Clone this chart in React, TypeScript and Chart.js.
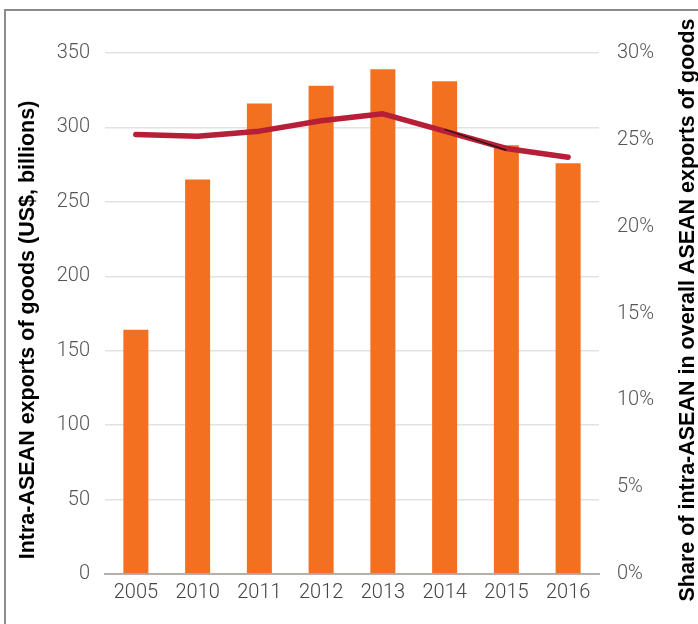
import React, { useEffect, useRef } from "react";
import { Chart, registerables } from "chart.js";

Chart.register(...registerables);

const categories = ["2005", "2010", "2011", "2012", "2013", "2014", "2015", "2016"];
const exportsBillions = [164, 265, 316, 328, 339, 331, 288, 276];
const sharePercent = [25.3, 25.2, 25.5, 26.1, 26.5, 25.5, 24.5, 24.0];
const shareEdge = [null, null, null, null, null, 25.6, 24.4, null];
const leftTitle = "Intra-ASEAN exports of goods (US$, billions)";
const rightTitle = "Share of intra-ASEAN in overall ASEAN exports of goods";

const tickFont = { family: "Roboto, 'Liberation Sans', sans-serif", size: 20, weight: "300" as any };

const titlePlugin = {
  id: "sideTitles",
  afterDraw(chart: any) {
    const ctx = chart.ctx;
    const draw = (text: string, x: number, y: number) => {
      ctx.save();
      ctx.fillStyle = "#000";
      ctx.font = "bold 21.5px 'Liberation Sans', Arial, sans-serif";
      ctx.textAlign = "center";
      ctx.textBaseline = "middle";
      ctx.translate(x, y);
      ctx.rotate(-Math.PI / 2);
      ctx.fillText(text, 0, 0);
      ctx.restore();
    };
    draw(leftTitle, 28, 330);
    draw(rightTitle, 688, 310);
  },
};

export default function App() {
  const ref = useRef<HTMLCanvasElement | null>(null);
  useEffect(() => {
    if (!ref.current) return;
    const chart = new Chart(ref.current, {
      type: "bar",
      data: {
        labels: categories,
        datasets: [
          {
            type: "line",
            data: shareEdge as any,
            yAxisID: "y2",
            borderColor: "#2a1414",
            borderWidth: 1.5,
            pointRadius: 0,
            order: 0,
          },
          {
            type: "line",
            data: sharePercent,
            yAxisID: "y2",
            borderColor: "#b71f38",
            borderWidth: 5.5,
            borderCapStyle: "round",
            borderJoinStyle: "round",
            pointRadius: 0,
            order: 1,
          },
          {
            type: "bar",
            data: exportsBillions,
            yAxisID: "y",
            backgroundColor: "#f37021",
            barPercentage: 0.405,
            categoryPercentage: 1,
            order: 2,
          },
        ] as any,
      },
      options: {
        animation: false,
        responsive: false,
        maintainAspectRatio: false,
        layout: { padding: { top: 53, left: 0, right: 0, bottom: 0 } },
        plugins: { legend: { display: false }, tooltip: { enabled: false } },
        scales: {
          x: {
            grid: { display: false, drawTicks: false },
            border: { display: true, color: "#b8b0a8", width: 2 },
            ticks: { font: tickFont, color: "#444", padding: 7, maxRotation: 0 },
            afterFit: (s: any) => { s.height = 50; },
          },
          y: {
            position: "left",
            min: 0,
            max: 350,
            ticks: { stepSize: 50, font: tickFont, color: "#555", padding: 15 },
            grid: { color: "#e2e2e2", lineWidth: 1.5, drawTicks: false },
            border: { display: false },
            afterFit: (s: any) => { s.width = 105; },
          },
          y2: {
            position: "right",
            min: 0,
            max: 30,
            ticks: { stepSize: 5, font: tickFont, color: "#555", padding: 18, callback: (v: any) => v + "%" },
            grid: { display: false, drawTicks: false },
            border: { display: false },
            afterFit: (s: any) => { s.width = 99; },
          },
        },
      } as any,
      plugins: [titlePlugin],
    });
    return () => chart.destroy();
  }, []);
  return (
    <div style={{ position: "fixed", left: 0, top: 0, width: 698, height: 624, overflow: "hidden", background: "#fff" }}>
      <div style={{ position: "absolute", left: 4, top: 9, width: 800, height: 800, borderTop: "2px solid #8c8c8c", borderLeft: "2px solid #8c8c8c" }} />
      <canvas ref={ref} width={698} height={624} style={{ position: "absolute", left: 0, top: 0 }} />
    </div>
  );
}
